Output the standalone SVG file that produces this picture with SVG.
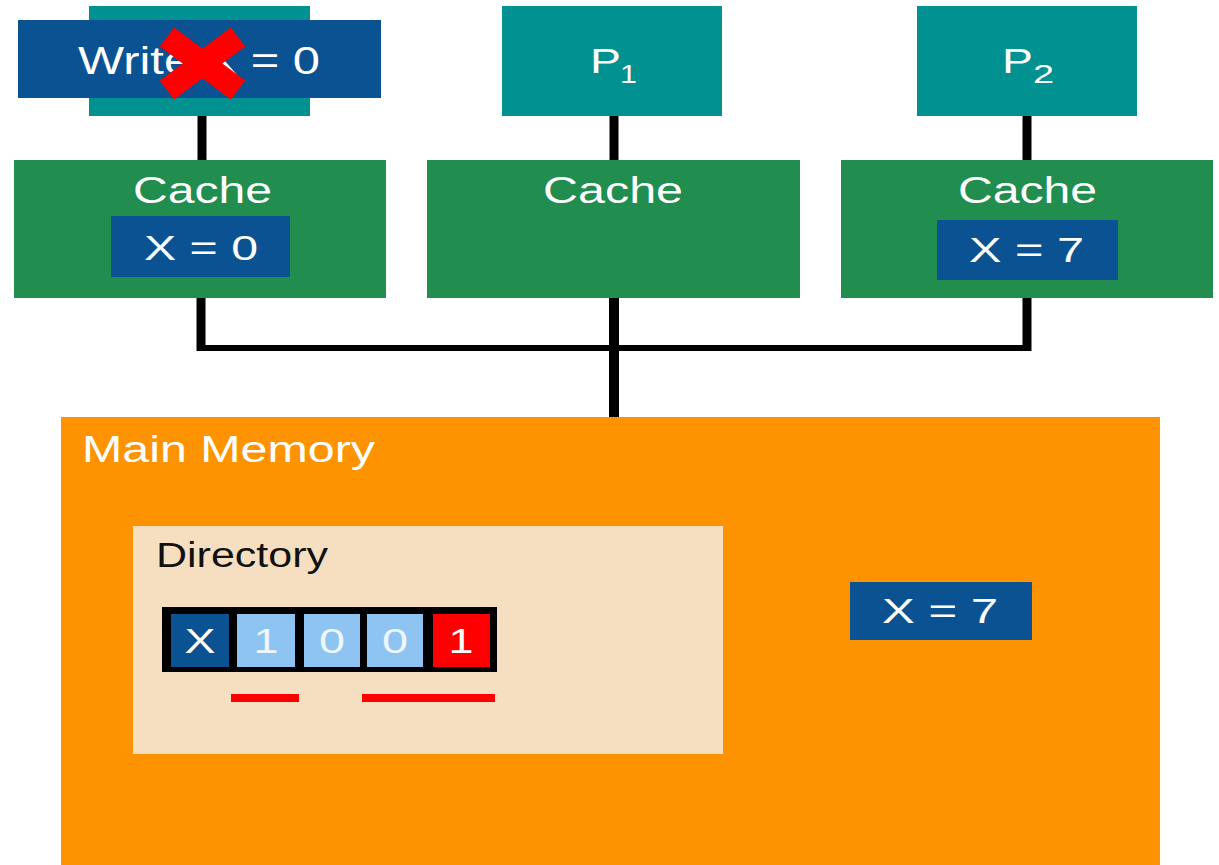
<svg xmlns="http://www.w3.org/2000/svg" width="1219" height="865" viewBox="0 0 1219 865">
<style>
.proc{fill:#009190}
.cache{fill:#218d4e}
.val{fill:#0b5292}
.t{font-family:"Liberation Sans",Arial,sans-serif;fill:#ffffff}
.dark{fill:#111111}
.wire{stroke:#000;fill:none}
.cell{fill:#8ec4f2}
</style>
<rect width="1219" height="865" fill="#ffffff"/>
<g id="connectors">
<line class="wire" x1="202" y1="116" x2="202" y2="160" stroke-width="9"/>
<line class="wire" x1="614" y1="116" x2="614" y2="160" stroke-width="9"/>
<line class="wire" x1="1027" y1="116" x2="1027" y2="160" stroke-width="9"/>
<line class="wire" x1="201" y1="298" x2="201" y2="351" stroke-width="9"/>
<line class="wire" x1="1027" y1="298" x2="1027" y2="351" stroke-width="9"/>
<line class="wire" x1="197" y1="348" x2="1031" y2="348" stroke-width="6"/>
<line class="wire" x1="614" y1="298" x2="614" y2="418" stroke-width="10"/>
</g>
<g id="p0">
<rect class="proc" x="89" y="6" width="221" height="110"/>
</g>
<g id="write">
<rect class="val" x="18" y="20" width="363" height="78"/>
<text class="t" x="78" y="74" font-size="38" textLength="242" lengthAdjust="spacingAndGlyphs">Write X = 0</text>
<line x1="167" y1="37" x2="238" y2="90" stroke="#ff0000" stroke-width="24"/>
<line x1="238" y1="37" x2="167" y2="90" stroke="#ff0000" stroke-width="24"/>
</g>
<g id="p1">
<rect class="proc" x="502" y="6" width="220" height="110"/>
<text class="t" x="590" y="73" font-size="35" textLength="31" lengthAdjust="spacingAndGlyphs">P</text>
<text class="t" x="620" y="83" font-size="25" textLength="17" lengthAdjust="spacingAndGlyphs">1</text>
</g>
<g id="p2">
<rect class="proc" x="917" y="6" width="220" height="110"/>
<text class="t" x="1002" y="73" font-size="35" textLength="31" lengthAdjust="spacingAndGlyphs">P</text>
<text class="t" x="1033" y="83" font-size="25" textLength="21" lengthAdjust="spacingAndGlyphs">2</text>
</g>
<g id="cache0">
<rect class="cache" x="14" y="160" width="372" height="138"/>
<text class="t" x="133" y="203" font-size="37" textLength="139" lengthAdjust="spacingAndGlyphs">Cache</text>
<rect class="val" x="111" y="216" width="179" height="61"/>
<text class="t" x="144" y="260" font-size="35" textLength="114" lengthAdjust="spacingAndGlyphs">X = 0</text>
</g>
<g id="cache1">
<rect class="cache" x="427" y="160" width="373" height="138"/>
<text class="t" x="543" y="203" font-size="37" textLength="140" lengthAdjust="spacingAndGlyphs">Cache</text>
</g>
<g id="cache2">
<rect class="cache" x="841" y="160" width="372" height="138"/>
<text class="t" x="958" y="203" font-size="37" textLength="139" lengthAdjust="spacingAndGlyphs">Cache</text>
<rect class="val" x="937" y="220" width="181" height="60"/>
<text class="t" x="969" y="262" font-size="35" textLength="115" lengthAdjust="spacingAndGlyphs">X = 7</text>
</g>
<g id="memory">
<rect x="61" y="417" width="1099" height="448" fill="#fd9300"/>
<text class="t" x="82" y="462" font-size="37" textLength="293" lengthAdjust="spacingAndGlyphs">Main Memory</text>
<rect class="val" x="850" y="582" width="182" height="58"/>
<text class="t" x="882" y="623" font-size="35" textLength="116" lengthAdjust="spacingAndGlyphs">X = 7</text>
</g>
<g id="directory">
<rect x="133" y="526" width="590" height="228" fill="#f6dfc0"/>
<text class="t dark" x="156" y="567" font-size="35" textLength="172" lengthAdjust="spacingAndGlyphs">Directory</text>
<rect x="162" y="607" width="335" height="65" fill="#000"/>
<rect class="val" x="171" y="614" width="58" height="53"/>
<rect class="cell" x="237" y="614" width="58" height="53"/>
<rect class="cell" x="304" y="614" width="56" height="53"/>
<rect class="cell" x="367" y="614" width="56" height="53"/>
<rect x="433" y="614" width="57" height="53" fill="#ff0000"/>
<g font-family="Liberation Sans,Arial,sans-serif" font-size="35" text-anchor="middle" lengthAdjust="spacingAndGlyphs">
<text x="200" y="653" fill="#ffffff" textLength="31" lengthAdjust="spacingAndGlyphs">X</text>
<text x="266" y="653" fill="#eef6ff" textLength="25" lengthAdjust="spacingAndGlyphs">1</text>
<text x="332" y="653" fill="#eef6ff" textLength="26" lengthAdjust="spacingAndGlyphs">0</text>
<text x="395" y="653" fill="#eef6ff" textLength="26" lengthAdjust="spacingAndGlyphs">0</text>
<text x="461" y="653" fill="#ffffff" textLength="25" lengthAdjust="spacingAndGlyphs">1</text>
</g>
<rect x="231" y="694" width="68" height="8" fill="#ff0000"/>
<rect x="362" y="694" width="133" height="8" fill="#ff0000"/>
</g>
</svg>
